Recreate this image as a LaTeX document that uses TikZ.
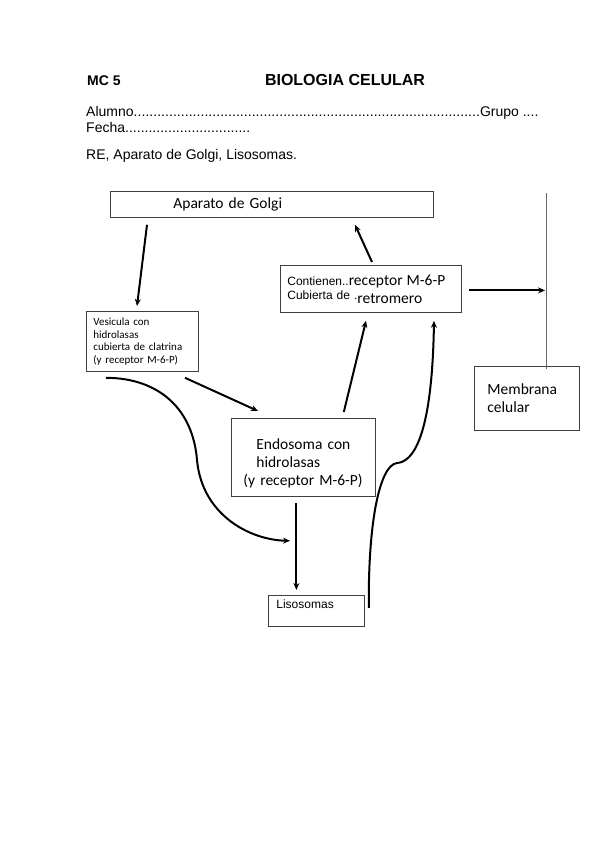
\documentclass[tikz,border=0pt]{standalone}
\usepackage{fontspec}
\setmainfont{Liberation Sans}
\newfontfamily\calibri{Carlito}
\usetikzlibrary{arrows.meta,calc}

\begin{document}
\begin{tikzpicture}[x=1pt, y=-1pt,
            box/.style={draw=black!75, line width=0.8pt, inner sep=0pt, anchor=north west, align=left},
            flow/.style={arrows={-Stealth[length=7pt, width=6pt]}, line width=2pt},
            big/.style={font=\calibri\fontsize{15.5}{18}\selectfont},
            plain/.style={font=\fontsize{14}{16}\selectfont, anchor=base west, inner sep=0pt}]
            \useasboundingbox (0,0) rectangle (599,848);
            \node [plain, font=\fontsize{14}{16}\selectfont\bfseries] (mc-five) at (87,86) {MC 5};
            \node [plain, anchor=base, font=\fontsize{16}{18}\selectfont\bfseries] (title) at (345,86) {BIOLOGIA CELULAR};
            \node [plain] (alumno) at (86,117) {\hbox to 452pt{Alumno\xleaders\hbox{.}\hfill Grupo ....}};
            \node [plain] (fecha) at (86,132) {\hbox to 164pt{Fecha\xleaders\hbox{.}\hfill}};
            \node [plain] (tema) at (86,159) {RE, Aparato de Golgi, Lisosomas.};
            \node [box, big, inner xsep=63pt, text width=197pt, minimum height=26pt] (golgi) at (110,191) {Aparato de Golgi};
            \node [box, inner xsep=7pt, text width=167pt, minimum height=47pt, font=\fontsize{12}{14}\selectfont] (retro) at (280,265)
                  {Contienen..{\calibri\fontsize{15.5}{17}\selectfont receptor M-6-P}\\
                   Cubierta de .\raisebox{-4pt}{\calibri\fontsize{15.5}{17}\selectfont retromero}};
            \node [box, inner xsep=7pt, text width=98pt, minimum height=60pt, font=\calibri\fontsize{11}{12.5}\selectfont] (vesicula) at (86,311)
                  {Vesicula con\\hidrolasas\\cubierta de clatrina\\(y receptor M-6-P)};
            \node [box, big, inner xsep=12pt, text width=120pt, minimum height=78pt] (endosoma) at (231,418)
                  {\rule{0pt}{23pt}\hspace*{13pt}Endosoma con\\\hspace*{13pt}hidrolasas\\(y receptor M-6-P)};
            \node [box, inner xsep=8pt, inner ysep=3pt, text width=80pt, text height=10pt, text depth=15pt, font=\fontsize{12}{14}\selectfont] (lisosomas) at (268,595) {Lisosomas};
            \node [box, big, inner xsep=13pt, text width=79pt, minimum height=64pt] (membrana) at (474,366) {Membrana\\celular};
            \draw [black!60, line width=0.7pt] (546,193) coordinate (mem-top) -- (546,369) coordinate (mem-bottom);
            \draw [flow] ($(golgi.south west)+(37,7)$) -- ($(vesicula.north west)+(51,-5)$);
            \draw [flow] ($(retro.north west)+(92,-3)$) -- ($(golgi.south west)+(245,7)$);
            \draw [flow, shorten >=1pt] ($(retro.east)+(7,1.5)$) coordinate (to-mem) -- (to-mem -| mem-top);
            \draw [flow] ($(vesicula.south west)+(99,6)$) -- ($(endosoma.north west)+(27,-7)$);
            \draw [flow] ($(endosoma.north east)+(-32,-6)$) -- ($(retro.south west)+(86,8)$);
            \draw [flow] ($(vesicula.south west)+(20,6)$) .. controls (160,378) and (193,410) .. (197,460)
                  .. controls (202,515) and (250,540) .. ($(endosoma.south west)+(59,44)$);
            \draw [flow] ($(endosoma.south)+(-7,6)$) -- ($(lisosomas.north)+(-20,-5)$);
            \draw [flow] ($(lisosomas.east)+(4,-3)$) .. controls (368,520) and (380,465) .. (397,463)
                  .. controls (412,462) and (432,440) .. ($(retro.south west)+(154,8)$);
\end{tikzpicture}
\end{document}
